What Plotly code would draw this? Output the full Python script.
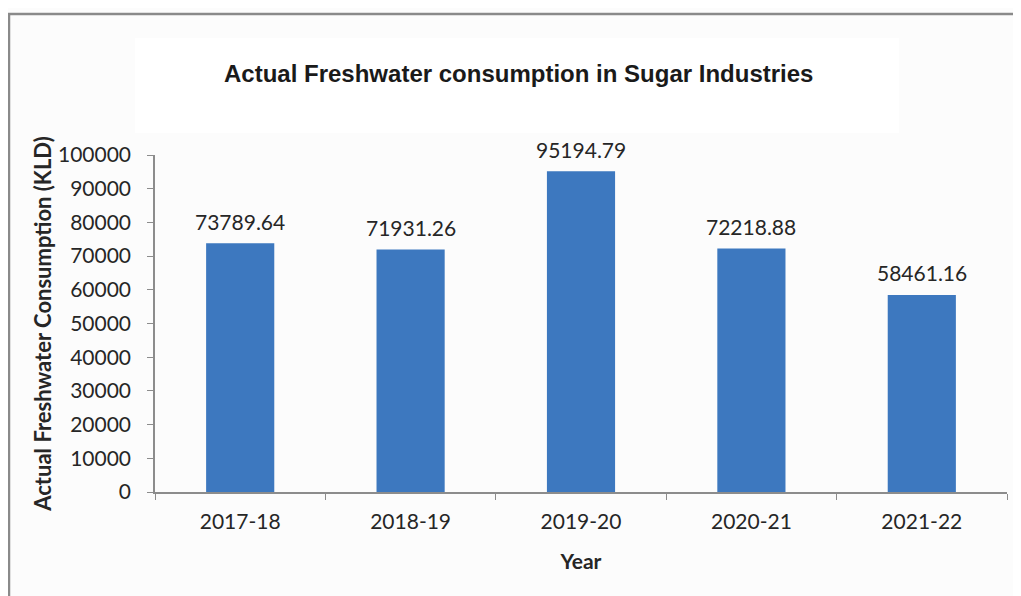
import plotly.graph_objects as go

years = ["2017-18", "2018-19", "2019-20", "2020-21", "2021-22"]
consumption = [73789.64, 71931.26, 95194.79, 72218.88, 58461.16]
y_ticks = [0, 10000, 20000, 30000, 40000, 50000, 60000, 70000, 80000, 90000, 100000]

title_text = "Actual Freshwater consumption in Sugar Industries"
x_title = "Year"
y_title = "Actual Freshwater Consumption (KLD)"

bar_color = "#3D78BF"
text_color = "#262626"
axis_color = "#8c8c8c"
FONT = "Lato, Open Sans, sans-serif"
tick_font = dict(family=FONT, size=21, color=text_color)

# page body has an 8px margin; plot area in page px: x 155..1007, y 155..492
PX0, PY0, PW, PH = 155, 492, 852, 337


def px(x):
    return (x - PX0) / PW


def py(y):
    return (PY0 - y) / PH


fig = go.Figure(
    go.Bar(
        x=years,
        y=consumption,
        marker=dict(color=bar_color, line=dict(width=0)),
        hoverinfo="x+y",
    )
)

label_annotations = [
    dict(x=c, y=v, xref="x", yref="y", text=f"{v:.2f}", showarrow=False,
         yanchor="middle", yshift=22, font=tick_font)
    for c, v in zip(years, consumption)
]

fig.update_layout(
    width=1013,
    height=588,
    margin=dict(l=147, r=14, t=147, b=104, pad=0),
    paper_bgcolor="#fcfcfc",
    plot_bgcolor="#fcfcfc",
    bargap=0.6,
    showlegend=False,
    shapes=[
        dict(type="rect", xref="paper", yref="paper",
             x0=px(9), x1=px(1040), y0=py(620), y1=py(14),
             line=dict(color="#8a8a8a", width=2.5), fillcolor="rgba(0,0,0,0)", layer="below"),
        dict(type="rect", xref="paper", yref="paper",
             x0=px(135), x1=px(899), y0=py(133), y1=py(38),
             line=dict(width=0), fillcolor="#ffffff", layer="below"),
    ],
    annotations=label_annotations + [
        dict(text=f"<b>{title_text}</b>", xref="paper", yref="paper",
             x=px(518), y=py(73), xanchor="center", yanchor="middle",
             showarrow=False,
             font=dict(family="Liberation Sans, Arial, sans-serif", size=24, color="#1a1a1a")),
    ],
)

fig.update_xaxes(
    showline=True, linecolor=axis_color, linewidth=1.5,
    ticks="outside", tickson="boundaries", ticklen=6, tickcolor=axis_color,
    ticklabelstandoff=10,
    tickfont=tick_font, showgrid=False,
    title=dict(text=f"<b>{x_title}</b>", standoff=22,
               font=dict(family=FONT, size=21, color=text_color)),
)
fig.update_yaxes(
    range=[0, 100000], tickvals=y_ticks, ticktext=[str(t) for t in y_ticks],
    showline=True, linecolor=axis_color, linewidth=1.5,
    ticks="outside", ticklen=6, tickcolor=axis_color,
    ticklabelstandoff=12,
    tickfont=tick_font, showgrid=False, zeroline=False,
    title=dict(text=f"<b>{y_title}</b>", standoff=0,
               font=dict(family=FONT, size=22, color=text_color)),
)

fig.write_html("out.html")
